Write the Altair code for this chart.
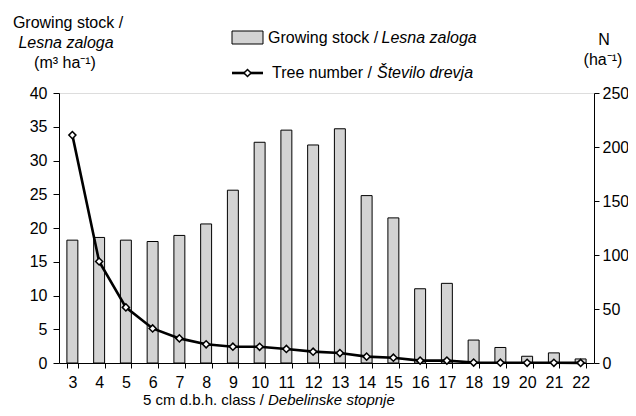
import altair as alt
import pandas as pd

classes = [3, 4, 5, 6, 7, 8, 9, 10, 11, 12, 13, 14, 15, 16, 17, 18, 19, 20, 21, 22]
growing_stock = [18.2, 18.6, 18.2, 18.0, 18.9, 20.6, 25.6, 32.7, 34.5, 32.3, 34.7,
                 24.8, 21.5, 11.0, 11.8, 3.4, 2.3, 1.0, 1.5, 0.6]
tree_number = [211, 94, 51.5, 32, 22.8, 17.3, 15.1, 15.0, 13.0, 10.5, 9.2,
               5.9, 4.9, 2.2, 2.2, 0.4, 0.3, 0.2, 0.2, 0.1]

left_ticks = [0, 5, 10, 15, 20, 25, 30, 35, 40]
right_ticks = [0, 50, 100, 150, 200, 250]

df = pd.DataFrame({"cls": classes, "gs": growing_stock, "n": tree_number})

FONT = "Liberation Sans"
FS = 16
BAR_FILL = "#d3d3d3"

xenc = alt.X(
    "cls:O",
    sort=classes,
    scale=alt.Scale(paddingInner=0.59, paddingOuter=0.295),
    axis=alt.Axis(title=None, labelAngle=0, tickBand="extent", tickSize=5,
                  labelPadding=6, domainColor="black", tickColor="black",
                  labelColor="black", labelFont=FONT, labelFontSize=FS),
)

bars = alt.Chart(df).mark_bar(fill=BAR_FILL, stroke="black", strokeWidth=1).encode(
    x=xenc,
    y=alt.Y("gs:Q", scale=alt.Scale(domain=[0, 40], nice=False),
            axis=alt.Axis(title=None, values=left_ticks, orient="left", tickSize=6,
                          labelPadding=6, grid=False, domainColor="black",
                          tickColor="black", labelColor="black",
                          labelFont=FONT, labelFontSize=FS)),
)

yN = alt.Y("n:Q", scale=alt.Scale(domain=[0, 250], nice=False),
           axis=alt.Axis(title=None, values=right_ticks, orient="right", tickSize=5,
                         labelPadding=3, grid=False, domainColor="black",
                         tickColor="black", labelColor="black",
                         labelFont=FONT, labelFontSize=FS))

line = alt.Chart(df).mark_line(color="black", strokeWidth=2.6).encode(x=xenc, y=yN)
pts = alt.Chart(df).mark_point(shape="diamond", filled=True, fill="white",
                               stroke="black", strokeWidth=1.5, size=50,
                               opacity=1).encode(x=xenc, y=yN)
line_layer = alt.layer(line, pts)


def txt(s, x, y, italic=False, align="left", baseline="middle", size=FS):
    return alt.Chart(alt.Data(values=[{"a": 0}])).mark_text(
        text=s, align=align, baseline=baseline, font=FONT, fontSize=size,
        fontStyle="italic" if italic else "normal", color="black",
    ).encode(x=alt.value(x), y=alt.value(y))


one = alt.Data(values=[{"a": 0}])
leg_rect = alt.Chart(one).mark_rect(fill=BAR_FILL, stroke="black", strokeWidth=1).encode(
    x=alt.value(173), x2=alt.value(204), y=alt.value(-62), y2=alt.value(-49))
leg_line = alt.Chart(one).mark_rule(color="black", strokeWidth=2.6).encode(
    x=alt.value(173), x2=alt.value(204), y=alt.value(-20))
leg_pt = alt.Chart(one).mark_point(shape="diamond", filled=True, fill="white",
                                   stroke="black", strokeWidth=1.5, size=50,
                                   opacity=1).encode(x=alt.value(188.5), y=alt.value(-20))

texts = [
    txt("Growing stock /", 9, -70, align="center"),
    txt("Lesna zaloga", 7, -50, italic=True, align="center"),
    txt("(m³ ha⁻¹)", 6, -30, align="center"),
    txt("N", 545, -53, align="center"),
    txt("(ha⁻¹)", 544, -33, align="center"),
    txt("Growing stock /", 209, -55),
    txt("Lesna zaloga", 322.5, -55, italic=True),
    txt("Tree number /", 213, -20),
    txt("Število drevja", 318, -20, italic=True),
    txt("5 cm d.b.h. class /", 84, 312, baseline="alphabetic", size=15),
    txt("Debelinske stopnje", 209, 312, italic=True, baseline="alphabetic", size=15),
]

chart = alt.layer(
    bars, line_layer, leg_rect, leg_line, leg_pt, *texts
).resolve_scale(y="independent").properties(
    width=535, height=270,
    autosize=alt.AutoSizeParams(type="none"),
    padding={"left": 51, "top": 85, "right": 34, "bottom": 45},
).configure_view(stroke="#808080", strokeWidth=1.5).configure(font=FONT)

chart.save("out.html", embed_options={"renderer": "svg", "actions": False})
